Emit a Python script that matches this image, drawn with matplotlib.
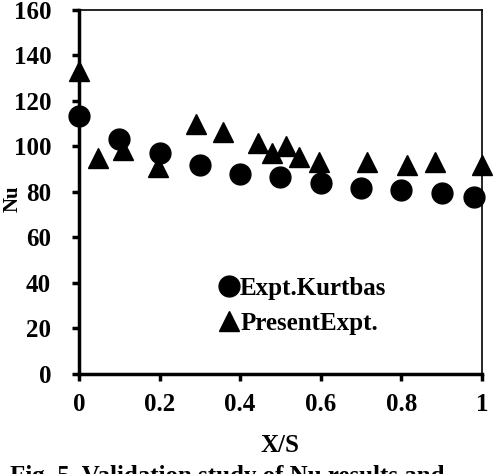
import matplotlib.pyplot as plt

plt.rcParams["font.family"] = "Liberation Serif"
plt.rcParams["font.weight"] = "bold"

# Expt. Kurtbas data
kurtbas_x = [0.0, 0.10, 0.20, 0.30, 0.40, 0.50, 0.60, 0.70, 0.80, 0.90, 0.98]
kurtbas_nu = [113.5, 103.5, 97, 92, 88, 86.7, 83.8, 81.6, 81, 79.5, 77.7]

# Present experiment data
present_x = [0.0, 0.046, 0.11, 0.197, 0.29, 0.357, 0.445, 0.478, 0.513, 0.547, 0.595,
             0.716, 0.815, 0.883, 1.0]
present_nu = [133, 95, 98.5, 91, 110, 106.5, 101.4, 97, 100, 95.5, 93.3,
              93.2, 92, 93, 91.7]

x_ticks = [0, 0.2, 0.4, 0.6, 0.8, 1]
x_tick_labels = ["0", "0.2", "0.4", "0.6", "0.8", "1"]
y_ticks = [0, 20, 40, 60, 80, 100, 120, 140, 160]

fs = 18

fig = plt.figure(figsize=(4.95, 4.74), dpi=100)
ax = fig.add_axes([0.1596, 0.211, 0.814, 0.768])

ax.plot(kurtbas_x, kurtbas_nu, "o", color="black", markersize=15,
        linestyle="none", label="Expt.Kurtbas", clip_on=False, zorder=3)
ax.plot(present_x, present_nu, "^", color="black", markersize=15,
        linestyle="none", label="PresentExpt.", clip_on=False, zorder=3)

ax.set_xlim(0, 1)
ax.set_ylim(0, 160)
ax.set_xticks(x_ticks)
ax.set_xticklabels(x_tick_labels)
ax.set_yticks(y_ticks)

for side in ["left", "bottom"]:
    ax.spines[side].set_linewidth(2.5)
for side in ["top", "right"]:
    ax.spines[side].set_linewidth(1.2)

ax.tick_params(axis="both", direction="out", length=5, width=2.5,
               labelsize=fs)
ax.tick_params(axis="y", pad=15)
ax.tick_params(axis="x", pad=9)
ax.tick_params(top=False, right=False)

ax.set_xlabel("X/S", fontsize=fs, fontweight="bold", labelpad=13)
# y label sits right at the left edge, as in the original figure
fig.text(0.026, 0.58, "Nu", fontsize=15, fontweight="bold",
         rotation=90, ha="center", va="center")

leg = ax.legend(loc="center", bbox_to_anchor=(0.555, 0.187), frameon=False,
                fontsize=fs, handlelength=0.8, handletextpad=0.05,
                labelspacing=0.5, borderpad=0.2)

fig.text(0.02, -0.006, "Fig. 5. Validation study of Nu results and",
         fontsize=fs, fontweight="bold", ha="left", va="center")

fig.savefig("out.png", dpi=100)
